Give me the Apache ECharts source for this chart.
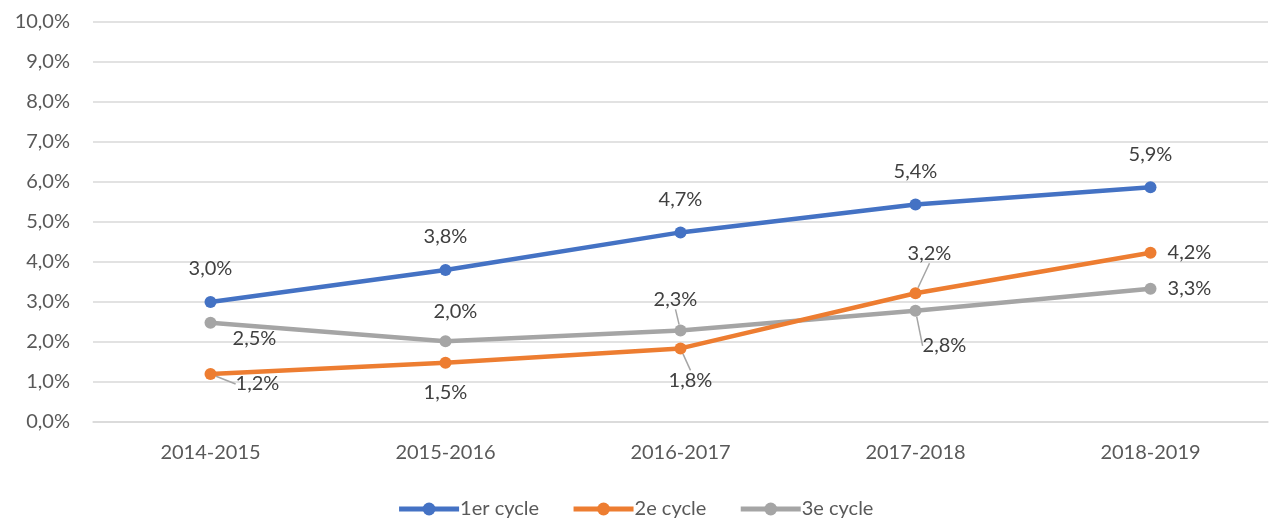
<!DOCTYPE html>
<html>
<head>
<meta charset="utf-8">
<script src="https://cdn.jsdelivr.net/npm/echarts@6/dist/echarts.min.js"></script>
<style>
html,body{margin:0;padding:0;background:#fff;}
#main{width:1270px;height:518px;}
</style>
</head>
<body>
<div id="main"></div>
<script>
// données (en %)
var categories = ['2014-2015', '2015-2016', '2016-2017', '2017-2018', '2018-2019'];
var seriesNames = ['1er cycle', '2e cycle', '3e cycle'];
var cycle1 = [3.0, 3.8, 4.74, 5.44, 5.87];
var cycle2 = [1.2, 1.48, 1.84, 3.22, 4.23];
var cycle3 = [2.48, 2.02, 2.29, 2.78, 3.33];

var colors = ['#4472C4', '#ED7D31', '#A5A5A5'];

// décalage des étiquettes (dx, dy) par rapport à la position "top"
var labelShift = [
  [[0,-12],[0,-12],[0,-12],[0,-12],[0,-12]],
  [[47,31],[0,51],[10,53],[14,-19],[39,21]],
  [[44,37],[10,-9],[-5,-10],[29,56],[39,21]]
];
// étiquettes avec trait de rappel
var withLeader = [
  [false,false,false,false,false],
  [true,false,true,true,false],
  [false,false,true,true,false]
];

function pct(v) {
  return v.toFixed(1).replace('.', ',') + '%';
}

var font = 'Lato, "Open Sans", sans-serif';

function makeSeries(idx, values) {
  return {
    name: seriesNames[idx],
    type: 'line',
    data: values.map(function (v, i) {
      return {
        value: v,
        labelLine: {show: withLeader[idx][i], lineStyle: {color: '#A5A5A5', width: 1.5}, length2: 0}
      };
    }),
    symbol: 'circle',
    symbolSize: 12,
    z: 3 - idx,
    lineStyle: {width: 4.5, color: colors[idx]},
    itemStyle: {color: colors[idx]},
    label: {
      show: true,
      position: 'top',
      distance: 5,
      color: '#404040',
      fontSize: 20,
      fontFamily: font,
      formatter: function (p) { return pct(p.value); }
    },
    labelLayout: function (p) {
      var s = labelShift[idx][p.dataIndex];
      return {dx: s[0], dy: s[1]};
    }
  };
}

var myChart = echarts.init(document.getElementById('main'));

var option = {
  backgroundColor: '#ffffff',
  animation: false,
  color: colors,
  grid: {left: 93, right: 2, top: 22, bottom: 96, containLabel: false},
  legend: {
    top: 494,
    left: 'center',
    itemWidth: 60,
    itemHeight: 16,
    itemGap: 32,
    lineStyle: {width: 5},
    textStyle: {color: '#595959', fontSize: 20, fontFamily: font, padding: [0, 0, 0, -4]},
    data: seriesNames
  },
  xAxis: {
    type: 'category',
    data: categories,
    boundaryGap: true,
    axisLine: {show: true, lineStyle: {color: '#D9D9D9', width: 1.5}},
    axisTick: {show: false},
    axisLabel: {color: '#595959', fontSize: 20, fontFamily: font, margin: 21}
  },
  yAxis: {
    type: 'value',
    min: 0,
    max: 10,
    interval: 1,
    axisLine: {show: false},
    axisTick: {show: false},
    splitLine: {lineStyle: {color: '#D9D9D9', width: 1.5}},
    axisLabel: {color: '#595959', fontSize: 20, fontFamily: font, margin: 23, formatter: pct}
  },
  series: [
    makeSeries(0, cycle1),
    makeSeries(1, cycle2),
    makeSeries(2, cycle3)
  ]
};

myChart.setOption(option);
</script>
</body>
</html>
